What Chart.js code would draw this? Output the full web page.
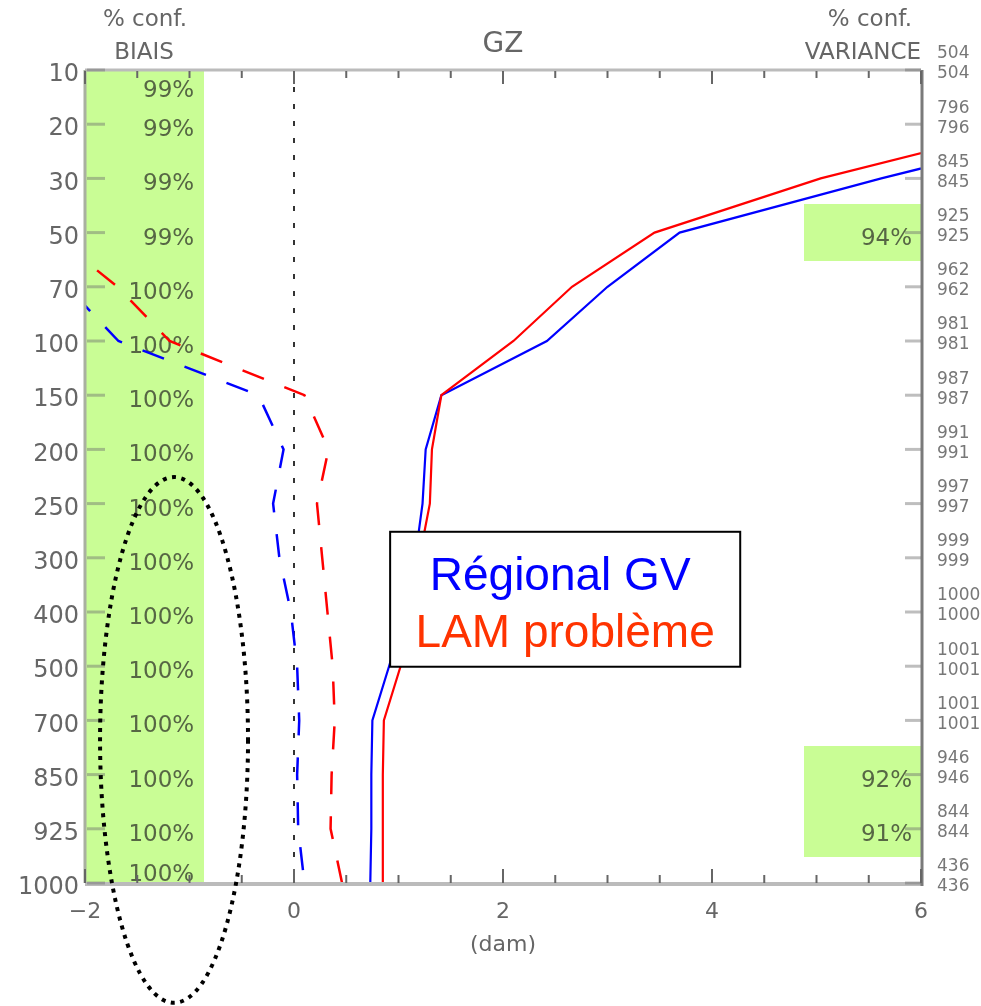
<!DOCTYPE html>
<html lang="fr">
<head>
<meta charset="UTF-8">
<title>GZ - biais et écart-type</title>
<script src="https://cdn.jsdelivr.net/npm/chart.js"></script>
<style>
    body { margin: 0; background: #fff; }
    #wrap { width: 981px; height: 1006px; }
</style>
</head>
<body>
<div id="wrap"><canvas id="gz" width="981" height="1006"></canvas></div>
<script>
// pressure levels (hPa), top to bottom
const levels = [10, 20, 30, 50, 70, 100, 150, 200, 250, 300, 400, 500, 700, 850, 925, 1000];
// number of observations (right axis, two rows per level)
const countsGV  = [504, 796, 845, 925, 962, 981, 987, 991, 997, 999, 1000, 1001, 1001, 946, 844, 436];
const countsLAM = [504, 796, 845, 925, 962, 981, 987, 991, 997, 999, 1000, 1001, 1001, 946, 844, 436];
// bias (dashed) and std dev (solid), dam
const biasGV  = [-4.2, -3.6, -3.0, -2.6, -2.17, -1.68, -0.34, -0.10, -0.20, -0.14, -0.03, 0.03, 0.05, 0.03, 0.04, 0.10];
const biasLAM = [-3.6, -3.2, -2.8, -2.33, -1.69, -1.19, 0.10, 0.33, 0.22, 0.27, 0.32, 0.37, 0.39, 0.36, 0.35, 0.46];
const stdGV   = [9.5, 7.7, 5.62, 3.69, 3.0, 2.42, 1.41, 1.26, 1.23, 1.16, 1.06, 0.91, 0.75, 0.74, 0.74, 0.73];
const stdLAM  = [9.0, 7.1, 5.04, 3.45, 2.66, 2.10, 1.41, 1.32, 1.30, 1.20, 1.12, 1.02, 0.86, 0.85, 0.85, 0.85];
// confidence labels
const biasConf = ['99%', '99%', '99%', '99%', '100%', '100%', '100%', '100%', '100%', '100%', '100%', '100%', '100%', '100%', '100%', '100%'];
const varConfLevels = [50, 850, 925];
const varConf = ['94%', '92%', '91%'];

const GREEN = '#c9fd95';
const BIAS_BOX_EDGE = -0.86;   // right edge of left confidence box (dam)
const VAR_BOX_EDGE = 4.88;     // left edge of right confidence boxes (dam)

const pts = vals => vals.map((v, i) => ({ x: v, y: i }));

Chart.defaults.font.family = '"DejaVu Sans", sans-serif';

const decorations = {
    id: 'decorations',
    beforeDatasetsDraw(chart) {
        const { ctx, chartArea: a, scales: { x, y } } = chart;
        ctx.save();
        ctx.beginPath();
        ctx.rect(a.left, a.top, a.right - a.left, a.bottom - a.top);
        ctx.clip();
        ctx.fillStyle = GREEN;
        // left box: bias confidence over all levels
        const lx0 = Math.round(x.getPixelForValue(-2)), lx1 = Math.round(x.getPixelForValue(BIAS_BOX_EDGE));
        const ly0 = Math.round(y.getPixelForValue(-0.5)), ly1 = Math.round(y.getPixelForValue(levels.length - 0.5));
        ctx.fillRect(lx0, ly0, lx1 - lx0, ly1 - ly0);
        // right boxes: variance confidence
        const rx0 = Math.round(x.getPixelForValue(VAR_BOX_EDGE)), rx1 = Math.round(x.getPixelForValue(6));
        varConfLevels.forEach(lv => {
            const i = levels.indexOf(lv);
            const t = Math.round(y.getPixelForValue(i - 0.52)), b = Math.round(y.getPixelForValue(i + 0.52));
            ctx.fillRect(rx0, t, rx1 - rx0, b - t);
        });
        ctx.restore();

        ctx.save();
        ctx.font = '23px "DejaVu Sans"';
        ctx.fillStyle = '#566644';
        ctx.textAlign = 'right';
        ctx.textBaseline = 'middle';
        const clampY = p => Math.min(Math.max(p + 6, a.top + 21), a.bottom - 8);
        biasConf.forEach((txt, i) => {
            ctx.fillText(txt, x.getPixelForValue(BIAS_BOX_EDGE) - 10, clampY(y.getPixelForValue(i)));
        });
        varConfLevels.forEach((lv, k) => {
            ctx.fillText(varConf[k], x.getPixelForValue(6) - 9, clampY(y.getPixelForValue(levels.indexOf(lv))));
        });
        ctx.restore();
    },
    afterDatasetsDraw(chart) {
        const { ctx, chartArea: a, scales: { x, y } } = chart;
        ctx.save();
        // frame
        ctx.lineWidth = 3;
        ctx.strokeStyle = '#bbbbbb';
        ctx.beginPath(); ctx.moveTo(a.left, a.top); ctx.lineTo(a.right, a.top); ctx.stroke();
        ctx.lineWidth = 4;
        ctx.beginPath(); ctx.moveTo(a.left, a.bottom + 1); ctx.lineTo(a.right, a.bottom + 1); ctx.stroke();
        ctx.lineWidth = 3;
        ctx.strokeStyle = '#a9b0a0';
        ctx.beginPath(); ctx.moveTo(a.left, a.top); ctx.lineTo(a.left, a.bottom); ctx.stroke();
        ctx.strokeStyle = '#7a7a7a';
        ctx.beginPath(); ctx.moveTo(a.right + 1, a.top); ctx.lineTo(a.right + 1, a.bottom + 3); ctx.stroke();
        // level ticks, inside
        ctx.lineWidth = 3;
        ctx.strokeStyle = 'rgba(110,110,110,0.45)';
        levels.forEach((lv, i) => {
            const p = y.getPixelForValue(i);
            ctx.beginPath(); ctx.moveTo(a.left + 2, p); ctx.lineTo(a.left + 20, p); ctx.stroke();
            ctx.beginPath(); ctx.moveTo(a.right - 16, p); ctx.lineTo(a.right, p); ctx.stroke();
        });
        // x ticks every 0.5 dam, top and bottom
        ctx.lineWidth = 2;
        ctx.strokeStyle = '#666';
        for (let v = -2; v <= 6.001; v += 0.5) {
            const p = x.getPixelForValue(v);
            const major = Math.abs(v % 2) < 1e-6;
            const len = major ? 14 : 8;
            ctx.beginPath(); ctx.moveTo(p, a.bottom); ctx.lineTo(p, a.bottom - len); ctx.stroke();
            ctx.beginPath(); ctx.moveTo(p, a.top + 1); ctx.lineTo(p, a.top + len); ctx.stroke();
        }
        ctx.restore();
    },
    afterDraw(chart) {
        const { ctx, chartArea: a, scales: { x, y } } = chart;
        ctx.save();
        // header texts
        ctx.fillStyle = '#666';
        ctx.textAlign = 'center';
        ctx.textBaseline = 'middle';
        ctx.font = '28px "DejaVu Sans"';
        ctx.fillText('GZ', (a.left + a.right) / 2, 45);
        ctx.font = '23px "DejaVu Sans"';
        ctx.fillText('% conf.', 145, 20);
        ctx.fillText('BIAIS', 144, 53);
        ctx.textAlign = 'right';
        ctx.fillText('% conf.', 912, 20);
        ctx.fillText('VARIANCE', 921, 53);

        // dotted ellipse annotation
        const cx = x.getPixelForValue(-1.148), rx = x.getPixelForValue(-1.148 + 0.708) - cx;
        const cy = y.getPixelForValue(12.36), ry = y.getPixelForValue(12.36 + 4.85) - cy;
        ctx.strokeStyle = '#000';
        ctx.lineWidth = 4;
        ctx.setLineDash([4, 5.5]);
        ctx.beginPath();
        ctx.ellipse(cx, cy, rx, ry, 0, 0, Math.PI * 2);
        ctx.stroke();
        ctx.setLineDash([]);

        // legend box
        const bx0 = x.getPixelForValue(0.92), bx1 = x.getPixelForValue(4.27);
        const by0 = y.getPixelForValue(8.52), by1 = y.getPixelForValue(11.01);
        ctx.fillStyle = '#fff';
        ctx.fillRect(bx0, by0, bx1 - bx0, by1 - by0);
        ctx.lineWidth = 2;
        ctx.strokeStyle = '#000';
        ctx.strokeRect(bx0, by0, bx1 - bx0, by1 - by0);
        ctx.textAlign = 'center';
        ctx.textBaseline = 'alphabetic';
        ctx.font = '46px "Liberation Sans", Arial, sans-serif';
        ctx.fillStyle = '#0000ff';
        ctx.fillText('Régional GV', (bx0 + bx1) / 2 - 5, by0 + 58);
        ctx.fillStyle = '#ff3300';
        ctx.fillText('LAM problème', (bx0 + bx1) / 2, by0 + 115);
        ctx.restore();
    }
};

const lineDs = (label, vals, color, dash, width, order) => ({
    label: label,
    data: pts(vals),
    showLine: true,
    borderColor: color,
    borderWidth: width,
    borderDash: dash,
    pointRadius: 0,
    order: order
});

new Chart(document.getElementById('gz'), {
    type: 'scatter',
    data: {
        datasets: [
            lineDs('Régional GV écart-type', stdGV, '#0000ff', [], 2.2, 2),
            lineDs('LAM problème écart-type', stdLAM, '#ff0000', [], 2.2, 1),
            lineDs('Régional GV biais', biasGV, '#0000ff', [23, 22], 2.5, 3),
            lineDs('LAM problème biais', biasLAM, '#ff0000', [23, 22], 2.5, 3),
            {
                label: 'zero',
                data: [{ x: 0, y: 0 }, { x: 0, y: levels.length - 1 }],
                showLine: true,
                borderColor: '#333',
                borderWidth: 2,
                borderDash: [5, 12],
                pointRadius: 0,
                order: 10
            }
        ]
    },
    options: {
        responsive: false,
        animation: false,
        layout: { padding: { top: 70, left: 0, right: 0, bottom: 0 } },
        plugins: {
            legend: { display: false },
            tooltip: { enabled: false },
            title: { display: false }
        },
        scales: {
            x: {
                type: 'linear',
                min: -2,
                max: 6,
                grid: { display: false, drawTicks: false },
                border: { display: false },
                ticks: {
                    stepSize: 2,
                    padding: 16,
                    color: '#666',
                    font: { size: 22 },
                    callback: v => v < 0 ? '\u2212' + (-v) : String(v)
                },
                title: {
                    display: true,
                    text: '(dam)',
                    color: '#666',
                    font: { size: 22 },
                    padding: { top: 4, bottom: 48 }
                },
                afterFit: s => { s.height = 123; }
            },
            y: {
                type: 'linear',
                position: 'left',
                min: 0,
                max: levels.length - 1,
                reverse: true,
                grid: { display: false, drawTicks: false },
                border: { display: false },
                ticks: {
                    stepSize: 1,
                    autoSkip: false,
                    padding: 6,
                    labelOffset: 5,
                    color: '#666',
                    font: { size: 24 },
                    callback: v => levels[v]
                },
                afterFit: s => { s.width = 85; }
            },
            y2: {
                type: 'linear',
                position: 'right',
                min: 0,
                max: levels.length - 1,
                reverse: true,
                grid: { display: false, drawTicks: false },
                border: { display: false },
                ticks: {
                    stepSize: 1,
                    autoSkip: false,
                    padding: 16,
                    labelOffset: -6,
                    color: '#777',
                    font: { size: 17, lineHeight: 1.18 },
                    callback: v => [String(countsGV[v]), String(countsLAM[v])]
                },
                afterFit: s => { s.width = 60; }
            }
        }
    },
    plugins: [decorations]
});
</script>
</body>
</html>
